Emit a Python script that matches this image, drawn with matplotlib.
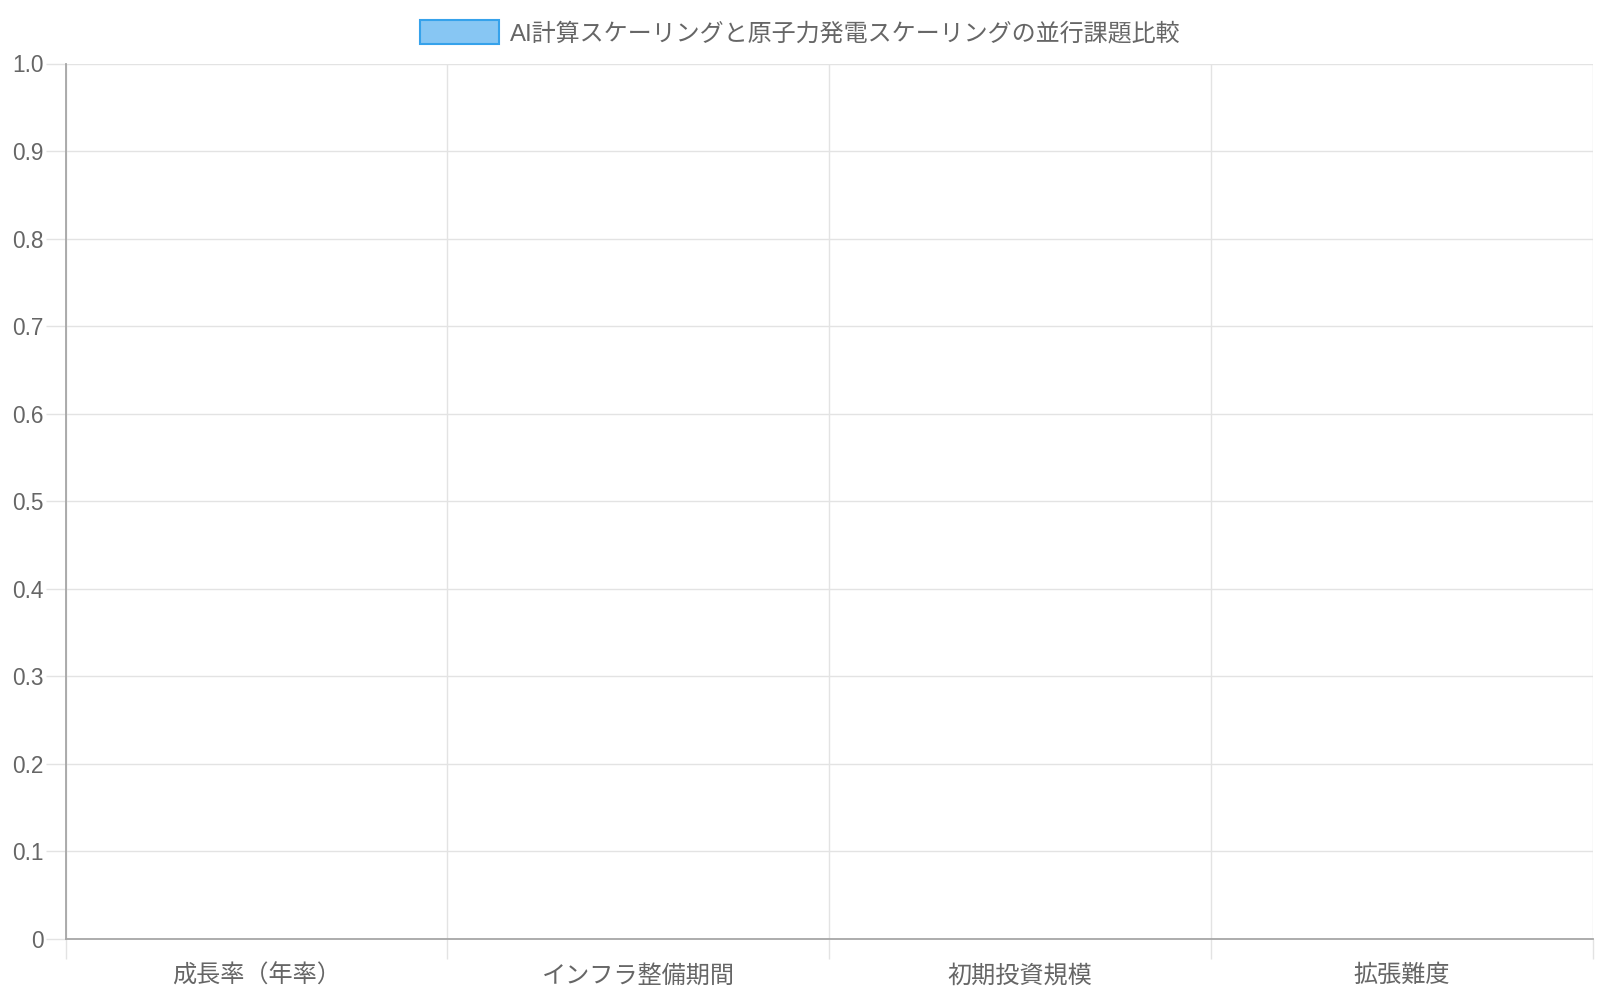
import numpy as np
import matplotlib
matplotlib.use("Agg")
import matplotlib.pyplot as plt

plt.rcParams['font.family'] = ['Liberation Sans', 'Noto Sans CJK JP', 'DejaVu Sans']

categories = ["成長率（年率）", "インフラ整備期間", "初期投資規模", "拡張難度"]
values = [np.nan, np.nan, np.nan, np.nan]
series_label = "AI計算スケーリングと原子力発電スケーリングの並行課題比較"
y_ticks = [0, 0.1, 0.2, 0.3, 0.4, 0.5, 0.6, 0.7, 0.8, 0.9, 1.0]
y_tick_labels = ["0", "0.1", "0.2", "0.3", "0.4", "0.5", "0.6", "0.7", "0.8", "0.9", "1.0"]

TEXT = "#666666"
GRID = "#e3e3e3"
AXIS = "#a6a6a6"

fig = plt.figure(figsize=(16, 10), dpi=100)
ax = fig.add_axes([65.5 / 1600, 1 - 939 / 1000, (1593 - 65.5) / 1600, (939 - 63.5) / 1000])

x = np.arange(len(categories))
bars = ax.bar(x, values, width=0.8, color="#87c6f3", edgecolor="#36a2eb",
              linewidth=1.5, label=series_label)

ax.set_xlim(-0.5, len(categories) - 0.5)
ax.set_ylim(0, 1.0)

ax.set_xticks(x)
ax.set_xticklabels(categories, fontsize=17.4, color=TEXT)
ax.set_xticks(np.arange(len(categories) + 1) - 0.5, minor=True)
ax.tick_params(axis="x", which="major", length=0, pad=18.5)
ax.tick_params(axis="x", which="minor", length=14.4, width=1.0, color=GRID)

ax.set_yticks(y_ticks)
ax.set_yticklabels(y_tick_labels, fontsize=16.3, color=TEXT)
ax.tick_params(axis="y", which="major", length=14.4, width=1.0, color=GRID, pad=1.2)

ax.grid(True, axis="y", which="major", color=GRID, linewidth=1.0)
ax.grid(True, axis="x", which="minor", color=GRID, linewidth=1.0)
ax.set_axisbelow(True)

for s in ["top", "right"]:
    ax.spines[s].set_visible(False)
for s in ["left", "bottom"]:
    ax.spines[s].set_color(AXIS)
    ax.spines[s].set_linewidth(1.3)

fig.legend(handles=[bars], labels=[series_label], loc="upper center",
           bbox_to_anchor=(0.5, 0.999), frameon=False, fontsize=17.3,
           handlelength=3.3, handleheight=1.15, handletextpad=0.45,
           labelcolor=TEXT, borderpad=0.3)

fig.savefig("out.png", dpi=100, facecolor="white")
